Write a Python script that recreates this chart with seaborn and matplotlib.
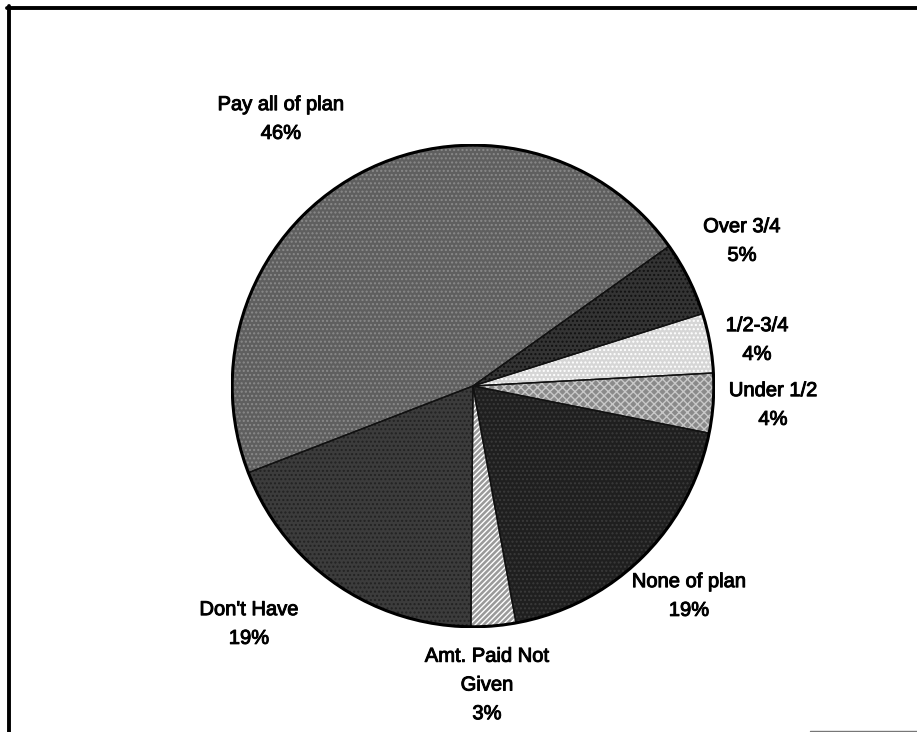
import matplotlib
matplotlib.use("Agg")
import matplotlib.pyplot as plt
import matplotlib.patheffects as pe
import seaborn as sns

# Survey responses: how much of the plan is paid
categories = ["Pay all of plan", "Don't Have", "Amt. Paid Not\nGiven",
              "None of plan", "Under 1/2", "1/2-3/4", "Over 3/4"]
shares = [46, 19, 3, 19, 4, 4, 5]

# Grey-scale fills for each wedge, with a texture pattern on top
fills = ["#5f5f5f", "#3c3c3c", "#9a9a9a", "#1f1f1f", "#8a8a8a", "#d6d6d6", "#343434"]
textures = ["....", "....", "//////", "....", "xxxx", "....", "...."]
texture_colors = ["#8a8a8a", "#222222", "#ffffff", "#3a3a3a", "#c8c8c8", "#ffffff", "#111111"]

# Label anchor points in figure pixels (x from left, y from top)
label_xy = [(281, 119), (249, 624), (487, 685), (689, 596),
            (773, 405), (757, 340), (742, 241)]

sns.set_theme(style="white")
plt.rcParams["font.family"] = ["Liberation Sans", "DejaVu Sans"]
plt.rcParams["hatch.linewidth"] = 1.0

W, H = 917, 732
fig = plt.figure(figsize=(W / 100, H / 100), dpi=100)
fig.patch.set_facecolor("white")

cx, cy, r = 473, 386, 242
ax = fig.add_axes([(cx - r) / W, (H - cy - r) / H, 2 * r / W, 2 * r / H])
ax.axis("off")

wedges, _ = ax.pie(shares, colors=fills, startangle=35.5, counterclock=True,
                   radius=1, wedgeprops=dict(linewidth=0))
# Texture overlay
over, _ = ax.pie(shares, colors=["none"] * len(shares), startangle=35.5,
                 counterclock=True, radius=1,
                 wedgeprops=dict(linewidth=0, fill=False))
for w, h, c in zip(over, textures, texture_colors):
    w.set_hatch(h)
    w.set_edgecolor(c)
    w.set_linewidth(0)
# Slice outlines
edges, _ = ax.pie(shares, colors=["none"] * len(shares), startangle=35.5,
                  counterclock=True, radius=1,
                  wedgeprops=dict(linewidth=1.0, edgecolor="#111111", fill=False))
ring = plt.Circle((0, 0), 1, fill=False, edgecolor="black", linewidth=2.2)
ax.add_patch(ring)
ax.set_xlim(-1.005, 1.005)
ax.set_ylim(-1.005, 1.005)
ax.set_aspect("equal")

for lab, val, (x, y) in zip(categories, shares, label_xy):
    fig.text(x / W, 1 - y / H, f"{lab}\n{val}%", ha="center", va="center",
             fontsize=14.5, color="black", linespacing=1.65,
             path_effects=[pe.withStroke(linewidth=0.7, foreground="black")])

# Border lines framing the chart
fig.add_artist(plt.Line2D([8.5 / W, 8.5 / W], [0, 1 - 6 / H], color="black",
                          linewidth=2.8, transform=fig.transFigure))
fig.add_artist(plt.Line2D([7 / W, 1], [1 - 7.5 / H, 1 - 7.5 / H], color="black",
                          linewidth=2.8, transform=fig.transFigure))
fig.add_artist(plt.Line2D([810 / W, 1], [1.5 / H, 1.5 / H], color="#777777",
                          linewidth=1.0, transform=fig.transFigure))

fig.savefig("out.png", dpi=100, facecolor="white")
